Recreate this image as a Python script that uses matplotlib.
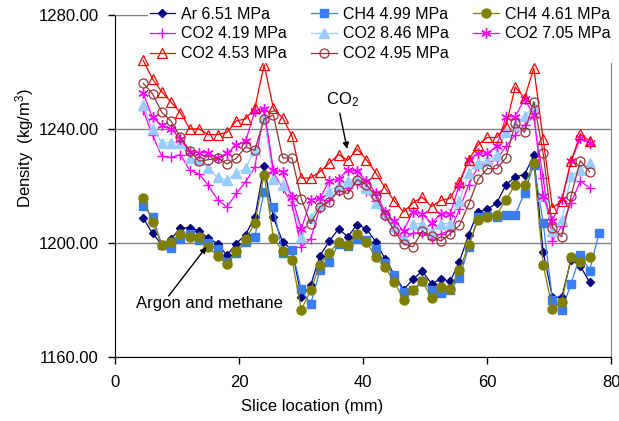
import matplotlib
matplotlib.use('Agg')
import matplotlib.pyplot as plt
from matplotlib.ticker import FormatStrFormatter

plt.rcParams['font.family'] = ['Liberation Sans', 'DejaVu Sans']
plt.rcParams['mathtext.default'] = 'regular'

# slice locations (mm)
slices = [4.5, 6.0, 7.5, 9.0, 10.5, 12.0, 13.5, 15.0, 16.5, 18.0,
          19.5, 21.0, 22.5, 24.0, 25.5, 27.0, 28.5, 30.0, 31.5, 33.0,
          34.5, 36.0, 37.5, 39.0, 40.5, 42.0, 43.5, 45.0, 46.5, 48.0,
          49.5, 51.0, 52.5, 54.0, 55.5, 57.0, 58.5, 60.0, 61.5, 63.0,
          64.5, 66.0, 67.5, 69.0, 70.5, 72.0, 73.5, 75.0, 76.5, 78.0]

# densities (kg/m3)
ar_651 = [1208.8, 1203.4, 1199.5, 1201.5, 1205.3, 1205.3, 1204.3, 1201.7, 1199.8, 1195.7,
          1199.8, 1203.0, 1209.0, 1227.0, 1209.0, 1200.4, 1197.6, 1181.2, 1185.2, 1195.6,
          1200.6, 1205.0, 1202.2, 1206.5, 1205.0, 1200.5, 1194.5, 1189.0, 1183.7, 1187.3,
          1190.2, 1185.8, 1187.4, 1186.6, 1193.5, 1203.0, 1211.0, 1211.8, 1214.0, 1220.4,
          1223.2, 1224.0, 1230.7, 1197.0, 1181.0, 1181.0, 1194.2, 1192.0, 1186.2]
ch4_499 = [1213.0, 1209.1, 1199.5, 1198.3, 1201.4, 1203.3, 1201.2, 1199.9, 1198.0, 1193.3,
           1196.5, 1200.3, 1202.2, 1218.0, 1212.6, 1196.4, 1197.6, 1183.8, 1178.5, 1190.5,
           1193.5, 1199.6, 1199.1, 1201.5, 1201.2, 1198.0, 1193.0, 1189.0, 1182.7, 1183.4,
           1186.7, 1183.4, 1182.5, 1183.6, 1187.8, 1198.7, 1209.2, 1209.5, 1209.2, 1210.0,
           1210.0, 1217.5, 1227.5, 1207.2, 1180.2, 1176.5, 1185.7, 1195.9, 1190.4, 1203.4]
ch4_461 = [1215.7, 1207.5, 1199.3, 1200.5, 1203.2, 1202.2, 1202.2, 1198.5, 1195.5, 1192.7,
           1197.3, 1201.3, 1206.9, 1224.0, 1201.9, 1197.2, 1194.1, 1176.7, 1183.4, 1192.5,
           1196.5, 1200.5, 1199.3, 1203.1, 1200.5, 1195.0, 1191.5, 1186.5, 1180.1, 1183.6,
           1186.6, 1180.8, 1184.6, 1184.0, 1190.5, 1199.5, 1208.0, 1209.1, 1209.9, 1215.2,
           1220.4, 1220.4, 1228.0, 1192.5, 1177.0, 1179.4, 1195.0, 1193.3, 1195.0]
co2_419 = [1246.6, 1237.7, 1230.4, 1230.0, 1231.0, 1225.5, 1224.2, 1220.2, 1215.2, 1212.6,
           1217.4, 1221.4, 1226.5, 1246.3, 1224.6, 1219.4, 1213.5, 1198.6, 1201.5, 1212.4,
           1215.0, 1218.2, 1219.4, 1220.8, 1218.2, 1214.7, 1209.5, 1204.5, 1201.2, 1203.5,
           1203.7, 1201.5, 1203.3, 1204.3, 1211.8, 1220.5, 1226.9, 1228.1, 1229.2, 1233.9,
           1237.9, 1241.4, 1244.3, 1222.8, 1200.8, 1206.0, 1214.1, 1221.7, 1219.4]
co2_846 = [1248.2, 1239.8, 1235.1, 1235.2, 1235.2, 1229.8, 1229.0, 1226.2, 1223.0, 1222.0,
           1224.5, 1226.2, 1232.5, 1244.0, 1222.3, 1220.5, 1216.5, 1202.0, 1208.9, 1213.6,
           1218.2, 1220.5, 1221.7, 1222.8, 1219.4, 1214.1, 1210.5, 1206.0, 1202.0, 1206.8,
           1206.8, 1204.0, 1206.8, 1206.8, 1214.7, 1224.6, 1228.1, 1228.9, 1230.8, 1238.8,
           1241.4, 1244.4, 1248.0, 1216.5, 1204.3, 1208.0, 1223.4, 1225.7, 1228.1]
co2_705 = [1252.5, 1244.0, 1241.2, 1240.0, 1236.5, 1231.9, 1231.7, 1231.7, 1229.8, 1231.5,
           1234.3, 1235.7, 1246.2, 1247.0, 1225.5, 1225.0, 1216.0, 1205.0, 1215.0, 1215.7,
           1221.9, 1222.3, 1225.7, 1225.2, 1221.9, 1217.6, 1211.0, 1207.6, 1204.4, 1211.0,
           1210.2, 1207.0, 1210.2, 1210.2, 1220.5, 1229.2, 1231.5, 1231.5, 1233.9, 1244.3,
           1244.3, 1250.5, 1244.9, 1216.5, 1207.8, 1215.3, 1228.6, 1236.8, 1235.0]
co2_453 = [1264.0, 1257.5, 1253.0, 1249.3, 1245.7, 1240.0, 1240.0, 1238.0, 1238.0, 1238.8,
           1242.8, 1243.5, 1247.2, 1262.5, 1247.2, 1243.8, 1237.5, 1222.8, 1222.8, 1225.0,
           1228.0, 1231.0, 1229.0, 1233.0, 1229.2, 1224.6, 1219.4, 1214.7, 1210.9, 1214.1,
           1216.1, 1212.8, 1215.0, 1215.7, 1221.4, 1229.2, 1234.4, 1237.0, 1237.0, 1241.0,
           1254.7, 1250.8, 1261.3, 1236.4, 1212.4, 1214.7, 1228.6, 1238.1, 1235.8]
co2_495 = [1256.0, 1252.3, 1245.8, 1242.7, 1237.0, 1232.4, 1228.7, 1229.2, 1229.7, 1227.7,
           1229.7, 1233.6, 1232.5, 1243.4, 1244.9, 1229.8, 1229.8, 1215.5, 1206.8, 1212.7,
           1214.5, 1218.5, 1217.3, 1222.2, 1220.5, 1216.5, 1210.0, 1204.2, 1199.7, 1198.7,
           1204.2, 1202.5, 1200.7, 1203.2, 1206.2, 1213.6, 1222.3, 1226.1, 1226.0, 1229.8,
           1242.0, 1238.8, 1249.5, 1231.5, 1205.4, 1202.2, 1216.5, 1228.9, 1224.9]

y_ticks = [1160, 1200, 1240, 1280]
x_ticks = [0, 20, 40, 60, 80]

fig = plt.figure(figsize=(6.19, 4.21), dpi=100)
ax = fig.add_axes([0.1863, 0.1513, 0.8013, 0.8138])

star = (6, 2, 0)  # asterisk like the Excel star marker
series = [
    ('Ar 6.51 MPa', ar_651, dict(color='#000080', marker='D', ms=4.5)),
    ('CH4 4.99 MPa', ch4_499, dict(color='#3A7DF0', marker='s', ms=5.5)),
    ('CH4 4.61 MPa', ch4_461, dict(color='#808000', marker='o', ms=6.5)),
    ('CO2 4.19 MPa', co2_419, dict(color='#FF00FF', marker='+', ms=7.5, mew=1.0)),
    ('CO2 8.46 MPa', co2_846, dict(color='#99CCFF', marker='^', ms=6.5)),
    ('CO2 7.05 MPa', co2_705, dict(color='#FF00FF', marker=star, ms=7.5, mew=1.0)),
    ('CO2 4.53 MPa', co2_453, dict(color='#FF0000', marker='^', ms=7, mfc='none', mew=0.9)),
    ('CO2 4.95 MPa', co2_495, dict(color='#993333', marker='o', ms=6.5, mfc='none', mew=0.9)),
]

handles = {}
for label, vals, style in series:
    line, = ax.plot(slices[:len(vals)], vals, lw=0.9, label=label, **style)
    handles[label] = line

ax.set_xlim(0, 80)
ax.set_ylim(1160, 1280)
ax.set_xticks(x_ticks)
ax.set_yticks(y_ticks)
ax.yaxis.set_major_formatter(FormatStrFormatter('%.2f'))
ax.yaxis.grid(True, color='#808080', lw=1)
ax.set_axisbelow(True)

for side in ['left', 'bottom']:
    ax.spines[side].set_color('black')
for side in ['right', 'top']:
    ax.spines[side].set_color('#808080')

ax.tick_params(direction='out', length=5, width=1, labelsize=12)
ax.tick_params(axis='x', pad=8)
ax.tick_params(axis='y', pad=7)

ax.set_xlabel('Slice location (mm)', fontsize=12)
ax.xaxis.set_label_coords(0.396, -0.122)
ax.set_ylabel('Density  (kg/m$^3$)', fontsize=12)
ax.yaxis.set_label_coords(-0.160, 0.611)

# legend laid out row by row like the original (3 columns)
order = ['Ar 6.51 MPa', 'CO2 4.19 MPa', 'CO2 4.53 MPa',
         'CH4 4.99 MPa', 'CO2 8.46 MPa', 'CO2 4.95 MPa',
         'CH4 4.61 MPa', 'CO2 7.05 MPa']
leg = ax.legend([handles[k] for k in order], order, loc='upper left',
                bbox_to_anchor=(0.239, 0.988), bbox_transform=fig.transFigure,
                ncol=3, fontsize=11.5, frameon=True, framealpha=1, fancybox=False,
                edgecolor='none', handlelength=1.6, handletextpad=0.4,
                columnspacing=1.5, labelspacing=0.3, borderpad=0.1, borderaxespad=0)

arrow = dict(arrowstyle='-|>', color='black', lw=1, mutation_scale=9,
             shrinkA=0, shrinkB=0)
ax.annotate('', xy=(37.4, 1233.0), xytext=(36.2, 1245.5), arrowprops=arrow)
ax.text(36.7, 1250.1, 'CO$_2$', ha='center', va='center', fontsize=12)
ax.annotate('', xy=(14.7, 1198.7), xytext=(8.6, 1181.5), arrowprops=arrow)
ax.text(15.1, 1178.8, 'Argon and methane', ha='center', va='center', fontsize=12)

fig.savefig('out.png', dpi=100)
